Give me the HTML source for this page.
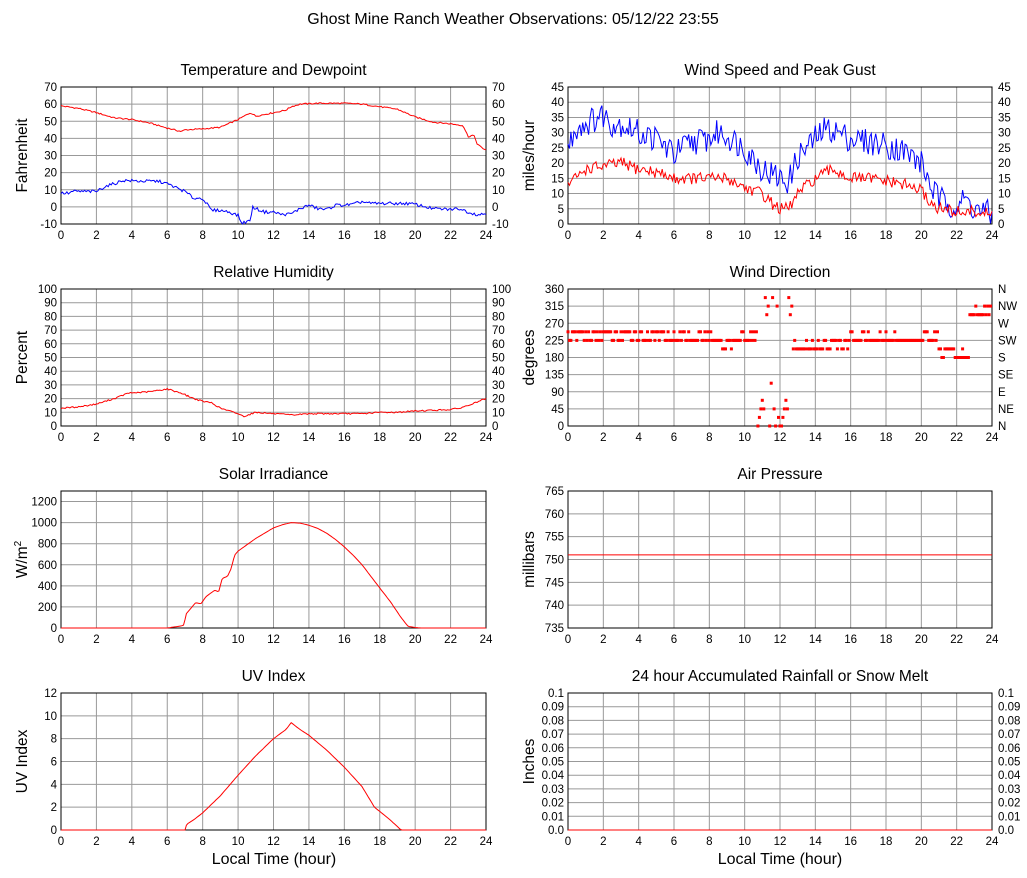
<!DOCTYPE html>
<html><head><meta charset="utf-8"><style>
body{margin:0;background:#fff;}
svg{display:block;font-family:"Liberation Sans",sans-serif;}
</style></head><body>
<svg id="s" width="1027" height="878" xmlns="http://www.w3.org/2000/svg"></svg>
<script>
const S=document.getElementById('s');let h='';
h+='<rect width="1027" height="878" fill="#fff"/>';
h+='<text x="513" y="24" font-size="16" text-anchor="middle">Ghost Mine Ranch Weather Observations: 05/12/22 23:55</text>';
function rnd(i){let x=Math.sin(i*12.9898+78.233)*43758.5453;return x-Math.floor(x);}
function interp(pts,t){for(let i=0;i<pts.length-1;i++){if(t>=pts[i][0]&&t<=pts[i+1][0]){let a=pts[i],b=pts[i+1];return a[1]+(b[1]-a[1])*(t-a[0])/(b[0]-a[0]);}}return pts[pts.length-1][1];}
function panel(o){
 const {x0,x1,y0,y1,ymin,ymax,step,title,lab,right,fmt}=o;
 h+=`<text x="${(x0+x1)/2}" y="${y0-12}" font-size="15.5" text-anchor="middle">${title}</text>`;
 for(let i=0;i<=12;i++){let x=x0+(x1-x0)*i/12;
  if(i>0&&i<12)h+=`<line x1="${x}" y1="${y0}" x2="${x}" y2="${y1}" stroke="#999" stroke-width="1"/>`;
  h+=`<text x="${x}" y="${y1+15}" font-size="11.5" text-anchor="middle">${i*2}</text>`;}
 let ticks=o.ticks;
 ticks.forEach((v,k)=>{let y=y1-(v-ymin)/(ymax-ymin)*(y1-y0);
  if(v>ymin&&v<ymax)h+=`<line x1="${x0}" y1="${y}" x2="${x1}" y2="${y}" stroke="#999" stroke-width="1"/>`;
  let t=fmt?fmt(v):v;
  h+=`<text x="${x0-4}" y="${y+4}" font-size="11.5" text-anchor="end">${t}</text>`;
  if(right){let r=Array.isArray(right)?right[k]:t;h+=`<text x="${x1+6}" y="${y+4}" font-size="11.5">${r}</text>`;}
 });
 h+=`<rect x="${x0}" y="${y0}" width="${x1-x0}" height="${y1-y0}" fill="none" stroke="#000" stroke-width="1"/>`;
 let cy=(y0+y1)/2;
 h+=`<text transform="translate(${x0-34},${cy}) rotate(-90)" font-size="15.5" text-anchor="middle">${lab}</text>`;
}
function series(o,pts,col,noise,seed,n){n=n||288;let d='';
 for(let i=0;i<=n;i++){let t=24*i/n;let v=interp(pts,t)+(noise?(rnd(i+seed)-0.5)*2*noise:0);
  v=Math.max(o.ymin,Math.min(o.ymax,v));
  let x=o.x0+(o.x1-o.x0)*t/24,y=o.y1-(v-o.ymin)/(o.ymax-o.ymin)*(o.y1-o.y0);
  d+=(i?'L':'M')+x.toFixed(1)+' '+y.toFixed(1);}
 h+=`<path d="${d}" fill="none" stroke="${col}" stroke-width="1"/>`;}
const L=[61,486],R=[568,992],rows=[[87,224],[289,426],[491,628],[693,830]];
function rng(a,b,s){let r=[];for(let v=a;v<=b+1e-9;v+=s)r.push(+v.toFixed(4));return r;}
let p1={x0:L[0],x1:L[1],y0:rows[0][0],y1:rows[0][1],ymin:-10,ymax:70,ticks:rng(-10,70,10),title:'Temperature and Dewpoint',lab:'Fahrenheit',right:true};
panel(p1);
series(p1,[[0,59],[1,57.5],[2,55],[3,52],[4,51],[5,49],[6,46],[6.8,44],[7,45],[8,45.5],[9,46.5],[10,51],[10.7,55],[11,53],[12,55],[12.7,56.5],[13,58.5],[13.5,60],[14.5,60.5],[16,60.5],[17,60],[18,58.5],[19,57],[20,52.5],[21,49.5],[22,48.5],[22.7,47.5],[23,41],[23.3,42],[23.5,37],[23.8,34],[24,33.5]],'#f00',0.4,1);
series(p1,[[0,8],[0.5,8],[0.6,9],[2,9],[2.5,12],[3,13.5],[3.5,15.5],[4.5,15],[5.5,15],[6,13.5],[7,9],[7.5,5],[8,5],[8.5,-2],[9,-2],[9.5,-3],[10,-5],[10.2,-9.5],[10.7,-8],[10.8,0],[11,-1],[11.5,-3],[12,-3],[12.5,-4.5],[13,-4],[13.5,-1],[14,1],[14.5,-1],[15,-1.5],[15.5,1],[16,1],[16.5,1.5],[17,3],[17.5,2],[18,2],[19.5,2],[20,1.5],[21,-1],[22,-1.5],[22.5,-1],[23,-3],[23.5,-4.5],[24,-4]],'#00f',0.9,500);
let p2={x0:R[0],x1:R[1],y0:rows[0][0],y1:rows[0][1],ymin:0,ymax:45,ticks:rng(0,45,5),title:'Wind Speed and Peak Gust',lab:'miles/hour',right:true};
panel(p2);
series(p2,[[0,25],[0.5,32],[1,33],[2,36],[2.5,33],[3,33],[4,30],[5,28],[6,23],[6.5,25],[7,27],[8,28],[8.5,30],[9,29],[10,25],[11,18],[12,15],[12.5,14],[13,22],[14,28],[14.5,31],[15,31],[16,28],[17,27],[18,26],[19,24],[20,20],[20.5,13],[21,8],[22,6],[22.5,8],[23,5],[23.5,4],[24,3]],'#00f',4.5,900);
series(p2,[[0,13],[1,18],[2,19],[3,20],[4,18],[5,17],[6,15],[7,15],[9,15],[10,12],[11,10],[11.5,7],[12,5],[12.5,5],[13,10],[14,15],[15,18],[16,15],[17,15],[18,14],[19,13],[20,11],[20.5,7],[21,5],[22,4],[23,4],[24,3]],'#f00',2,1300);
let p3={x0:L[0],x1:L[1],y0:rows[1][0],y1:rows[1][1],ymin:0,ymax:100,ticks:rng(0,100,10),title:'Relative Humidity',lab:'Percent',right:true};
panel(p3);
series(p3,[[0,13],[1,14],[1.5,15],[2,16],[3,20],[3.8,24],[5,25],[6,27],[6.8,24],[7.5,20],[8,18],[8.5,17],[9,13],[10,9],[10.3,7],[11,10],[12,9],[13,8],[14,9],[17,9],[18,10],[19,10],[20,11],[22,12],[22.5,13],[23,15],[24,20]],'#f00',0.5,2000);
let p4={x0:R[0],x1:R[1],y0:rows[1][0],y1:rows[1][1],ymin:0,ymax:360,ticks:rng(0,360,45),title:'Wind Direction',lab:'degrees',right:['N','NE','E','SE','S','SW','W','NW','N']};
panel(p4);
for(let i=0;i<288;i++){let t=i/12,r=rnd(i+3000),v;
 if(t<7)v=r<0.5?225:247.5;
 else if(t<8.1)v=r<0.6?225:247.5;
 else if(t<9.7)v=r<0.65?225:202.5;
 else if(t<10.7)v=r<0.8?247.5:225;
 else if(t<12.7){const c=[0,0,22.5,45,67.5,45,337.5,292.5,315,0,112.5,337.5,45,0,315,22.5];v=c[i%c.length];}
 else if(t<14.5)v=r<0.75?202.5:225;
 else if(t<16)v=r<0.6?225:202.5;
 else if(t<21)v=r<0.7?225:247.5;
 else if(t<22.7)v=r<0.5?202.5:180;
 else v=r<0.7?292.5:315;
 let x=p4.x0+(p4.x1-p4.x0)*t/24,y=p4.y1-v/360*(p4.y1-p4.y0);
 h+=`<rect x="${(x-1.5).toFixed(1)}" y="${(y-1.5).toFixed(1)}" width="3" height="3" fill="#f00"/>`;}
let p5={x0:L[0],x1:L[1],y0:rows[2][0],y1:rows[2][1],ymin:0,ymax:1300,ticks:rng(0,1200,200),title:'Solar Irradiance',lab:'W/m<tspan dy="-6" font-size="10">2</tspan>'};
panel(p5);
series(p5,[[0,0],[6,0],[6.8,20],[6.95,30],[7.05,130],[7.6,240],[7.9,230],[8.2,300],[8.7,360],[8.9,340],[9.1,470],[9.4,490],[9.6,560],[9.8,690],[10,730],[10.5,790],[11,850],[11.5,900],[12,950],[12.5,980],[13,1000],[13.5,995],[14,975],[14.5,945],[15,900],[15.5,840],[16,770],[16.5,690],[17,600],[17.5,490],[18,380],[18.6,250],[19.2,100],[19.6,15],[20,5],[20.3,0],[24,0]],'#f00',0,0);
let p6={x0:R[0],x1:R[1],y0:rows[2][0],y1:rows[2][1],ymin:735,ymax:765,ticks:rng(735,765,5),title:'Air Pressure',lab:'millibars'};
panel(p6);
series(p6,[[0,751],[24,751]],'#f00',0,0);
let p7={x0:L[0],x1:L[1],y0:rows[3][0],y1:rows[3][1],ymin:0,ymax:12,ticks:rng(0,12,2),title:'UV Index',lab:'UV Index'};
panel(p7);
series(p7,[[0,0],[7,0],[7.1,0.5],[7.5,0.9],[8,1.5],[9,3],[10,4.8],[11,6.5],[12,8],[12.7,8.8],[13,9.4],[13.5,8.8],[14,8.3],[15,7],[16,5.5],[17,3.8],[17.7,2],[18.5,1],[19,0.3],[19.2,0],[24,0]],'#f00',0,0);
let p8={x0:R[0],x1:R[1],y0:rows[3][0],y1:rows[3][1],ymin:0,ymax:0.1,ticks:rng(0,0.1,0.01),title:'24 hour Accumulated Rainfall or Snow Melt',lab:'Inches',right:true,fmt:v=>v===0?'0.0':(+v.toFixed(2)).toString()};
panel(p8);
series(p8,[[0,0],[24,0]],'#f00',0,0);
h+='<text x="274" y="864" font-size="16" text-anchor="middle">Local Time (hour)</text>';
h+='<text x="780" y="864" font-size="16" text-anchor="middle">Local Time (hour)</text>';
S.innerHTML=h;
</script>
</body></html>
